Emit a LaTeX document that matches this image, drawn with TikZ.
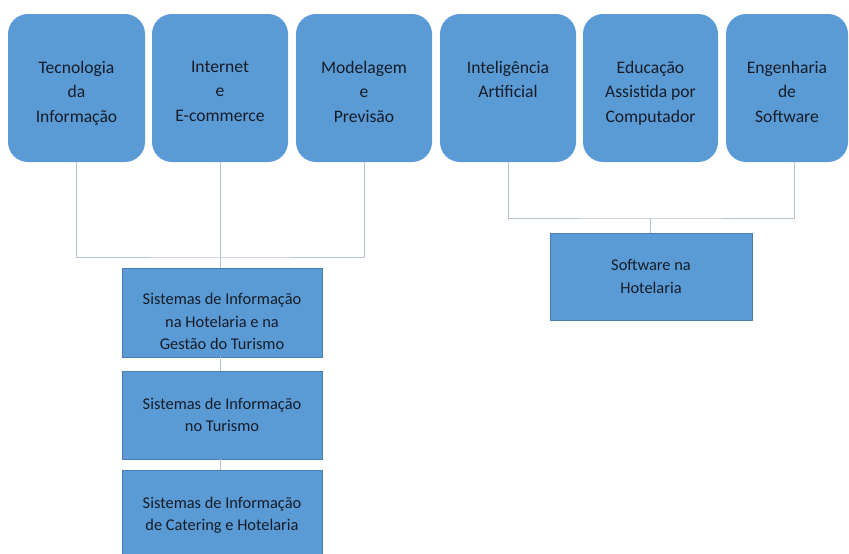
\documentclass[tikz,border=0pt]{standalone}
\usepackage{fontspec}
\setmainfont{Carlito}
\usepackage{xcolor}
\usetikzlibrary{calc,positioning}

\definecolor{boxblue}{RGB}{91,155,213}
\definecolor{boxedge}{RGB}{72,125,180}
\definecolor{textdark}{RGB}{22,28,40}
\definecolor{linegray}{RGB}{182,196,212}

\begin{document}
\begin{tikzpicture}[x=1pt,y=-1pt]
            \tikzset{topbox/.style = {fill=boxblue, rounded corners=20pt, minimum height=148pt, inner sep=0pt}}
            \tikzset{toptext/.style = {anchor=north, inner sep=0pt, align=center, text=textdark, font=\fontsize{17.6}{24.5}\selectfont}}
            \tikzset{lowbox/.style = {fill=boxblue, draw=boxedge, line width=0.6pt, minimum width=200pt, inner sep=0pt, align=center, text=textdark, font=\fontsize{16.4}{22.5}\selectfont}}
            \tikzset{edge/.style = {draw=linegray, line width=0.9pt}}

            \useasboundingbox (0,0) rectangle (849,554);

            % top boxes
            \foreach \n/\x/\w/\t in {ti/76.5/137/{Tecnologia\\da\\Informação},
                                     ie/220/136/{Internet\\e\\E-commerce},
                                     mp/364/136/{Modelagem\\e\\Previsão},
                                     ia/508/136/{Inteligência\\Artificial},
                                     ea/650.5/135/{Educação\\Assistida por\\Computador},
                                     es/787/122/{Engenharia\\de\\Software}}
            {
              \node[topbox, minimum width=\w pt] (\n) at (\x,88) {};
              \node[toptext] (\n-t) at ([yshift=-47pt]\n.north) {\t};
            }

            % lower boxes
            \node[lowbox, minimum height=89pt] (sa) at (222,312.5) {};
            \node[lowbox, draw=none, fill=none] (sa-t) at ([yshift=-9pt]sa.center) {Sistemas de Informação\\na Hotelaria e na\\Gestão do Turismo};
            \node[lowbox, minimum height=88pt] (sb) at (222,415) {Sistemas de Informação\\no Turismo};
            \node[lowbox, minimum height=90pt] (sc) at (222,515) {Sistemas de Informação\\de Catering e Hotelaria};
            \node[lowbox, minimum width=202pt, minimum height=87pt] (sh) at (651,276.5) {Software na\\Hotelaria};

            % junctions
            \coordinate (lj) at (220,257);
            \coordinate (rj) at (650,218);

            % edges
            \draw[edge] (ti.south) |- (lj) -| (mp.south);
            \draw[edge] (ie.south) -- (ie.south |- sa.north);
            \draw[edge] (sa.south -| ie.south) -- (sb.north -| ie.south);
            \draw[edge] (sb.south -| ie.south) -- (sc.north -| ie.south);
            \draw[edge] (ia.south) |- (rj) -| ([xshift=7pt]es.south);
            \draw[edge] (rj) -- (rj |- sh.north);

          \end{tikzpicture}
\end{document}
